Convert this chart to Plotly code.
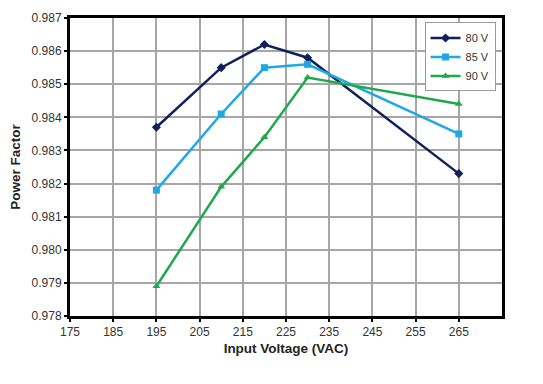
import plotly.graph_objects as go

voltages = [195, 210, 220, 230, 265]
pf_80v = [0.9837, 0.9855, 0.9862, 0.9858, 0.9823]
pf_85v = [0.9818, 0.9841, 0.9855, 0.9856, 0.9835]
pf_90v = [0.9789, 0.9819, 0.9834, 0.9852, 0.9844]
series_names = ["80 V", "85 V", "90 V"]
x_ticks = [175, 185, 195, 205, 215, 225, 235, 245, 255, 265]
y_ticks = [0.978, 0.979, 0.980, 0.981, 0.982, 0.983, 0.984, 0.985, 0.986, 0.987]

colors = ["#10205a", "#1ea8e6", "#1fa84c"]
symbols = ["diamond", "square", "triangle-up"]
sizes = [7, 7, 7]

fig = go.Figure()
for name, ys, c, s, sz in zip(series_names, [pf_80v, pf_85v, pf_90v], colors, symbols, sizes):
    fig.add_trace(go.Scatter(
        x=voltages, y=ys, name=name, mode="lines+markers",
        line=dict(color=c, width=2.5),
        marker=dict(symbol=s, size=sz, color=c),
    ))

fig.update_layout(
    width=543, height=384,
    margin=dict(l=62, r=49, t=10, b=76),
    paper_bgcolor="white", plot_bgcolor="white",
    font=dict(family="Liberation Sans, Arial, sans-serif", color="#333333", size=12),
    showlegend=True,
    legend=dict(
        x=0.985, y=0.985, xanchor="right", yanchor="top",
        bgcolor="white", bordercolor="#9a9a9a", borderwidth=1,
        font=dict(size=11, color="#333333"),
        tracegroupgap=0, itemwidth=30,
    ),
    xaxis=dict(
        range=[175, 275], tickvals=x_ticks, ticktext=[str(v) for v in x_ticks],
        showgrid=True, gridcolor="#a6a6a6", gridwidth=2,
        showline=True, linecolor="black", linewidth=3, mirror=True,
        ticks="outside", ticklen=3, tickcolor="black", tickwidth=2,
        title=dict(text="<b>Input Voltage (VAC)</b>", font=dict(size=13.5, color="#222222"), standoff=6),
        zeroline=False, automargin=False,
    ),
    yaxis=dict(
        range=[0.978, 0.987], tickvals=y_ticks, ticktext=[f"{v:.3f}" for v in y_ticks],
        showgrid=True, gridcolor="#a6a6a6", gridwidth=2,
        showline=True, linecolor="black", linewidth=3, mirror=True,
        ticks="outside", ticklen=3, tickcolor="black", tickwidth=2,
        title=dict(text="<b>Power Factor</b>", font=dict(size=13.5, color="#222222"), standoff=8),
        zeroline=False, automargin=False,
    ),
)

fig.write_html("out.html")
